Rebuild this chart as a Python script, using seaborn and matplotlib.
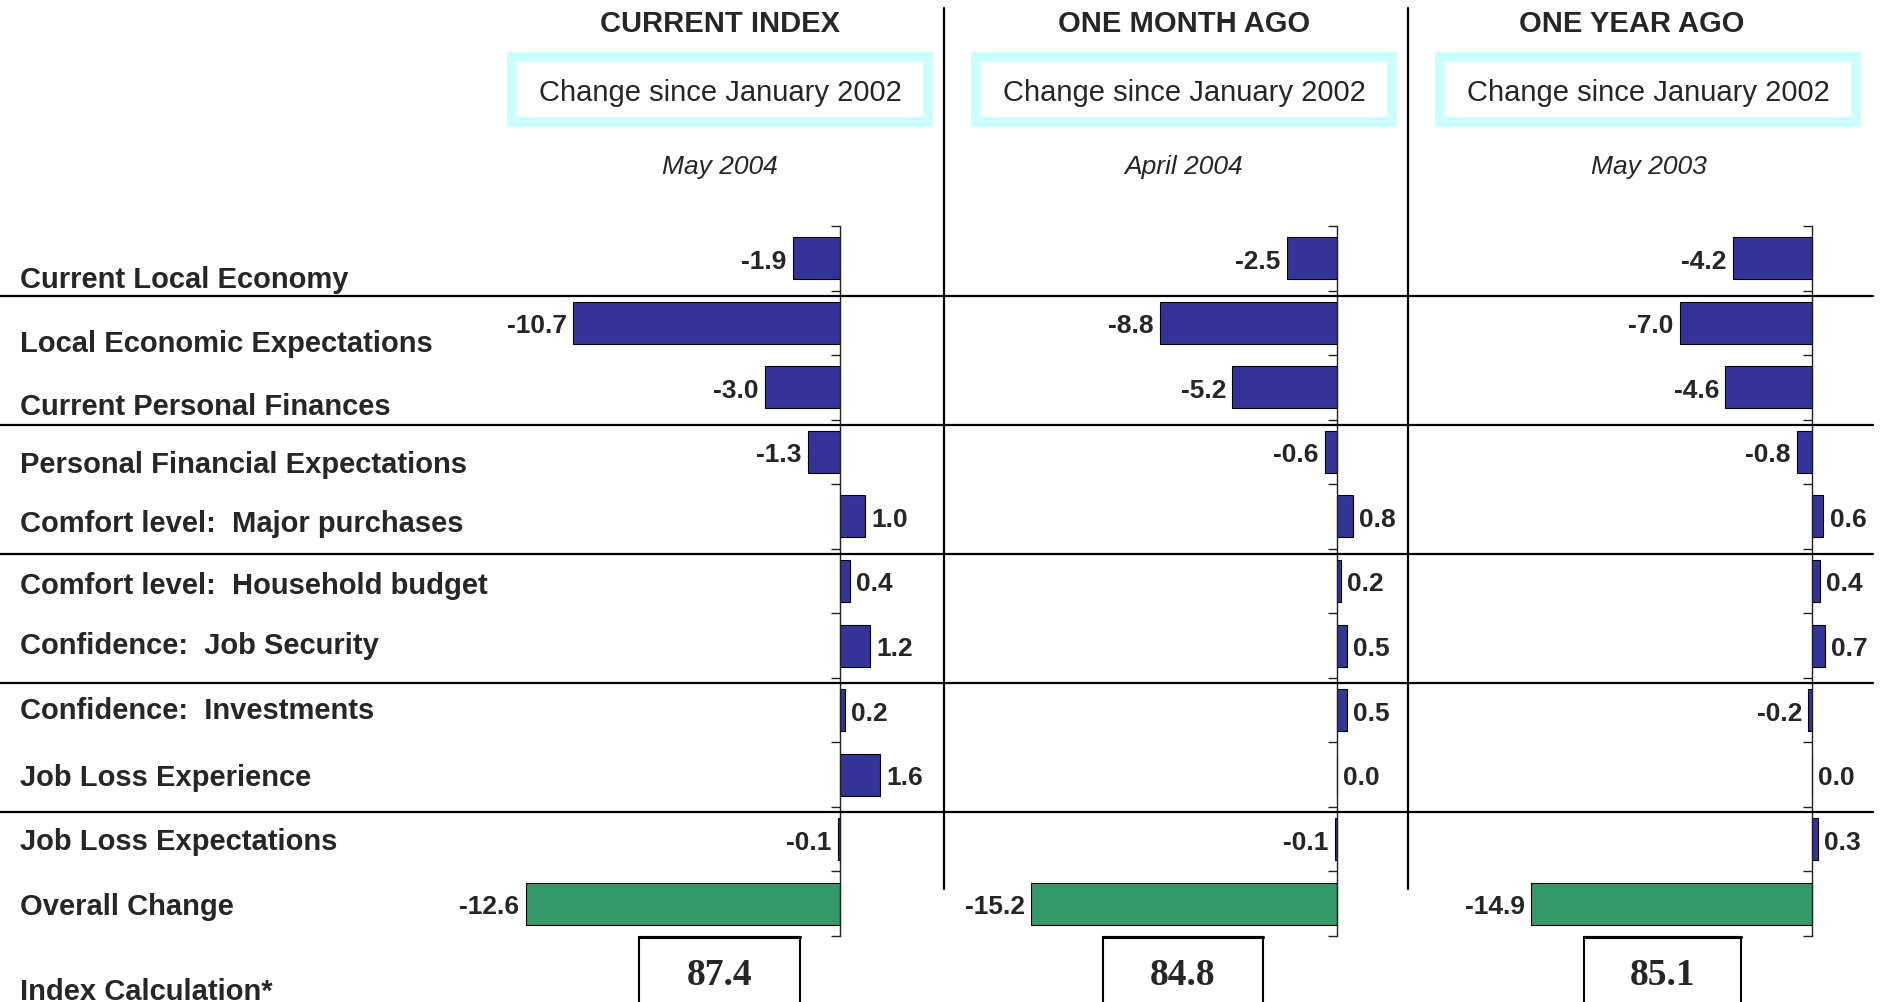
import matplotlib
matplotlib.use('Agg')
import matplotlib.pyplot as plt
import matplotlib.patches as patches
import matplotlib.transforms as mtransforms
from matplotlib.lines import Line2D
import seaborn as sns
import pandas as pd

# data
categories = ['Current Local Economy', 'Local Economic Expectations', 'Current Personal Finances',
              'Personal Financial Expectations', 'Comfort level:  Major purchases',
              'Comfort level:  Household budget', 'Confidence:  Job Security',
              'Confidence:  Investments', 'Job Loss Experience', 'Job Loss Expectations',
              'Overall Change']
current_index = [-1.9, -10.7, -3.0, -1.3, 1.0, 0.4, 1.2, 0.2, 1.6, -0.1, -12.6]
one_month_ago = [-2.5, -8.8, -5.2, -0.6, 0.8, 0.2, 0.5, 0.5, 0.0, -0.1, -15.2]
one_year_ago = [-4.2, -7.0, -4.6, -0.8, 0.6, 0.4, 0.7, -0.2, 0.0, 0.3, -14.9]
headers = ['CURRENT INDEX', 'ONE MONTH AGO', 'ONE YEAR AGO']
periods = ['May 2004', 'April 2004', 'May 2003']
index_values = [87.4, 84.8, 85.1]
subtitle = 'Change since January 2002'

# layout (pixels of the 1880x1003 canvas)
W, H = 1880, 1003
BLUE, GREEN, CYAN = '#333399', '#339966', '#CCFFFF'
panel_edges = [(0, 944), (944, 1408), (1408, 1880)]
zero_px = [840, 1337, 1812]
px_per_unit = [24.95, 20.1, 18.85]
axis_top, axis_bottom = 227, 937
label_baselines = [288, 352, 415, 473, 532, 594, 654, 719, 786, 850, 915]
header_x = [720, 1184, 1632]
box_x = [(507, 933), (971, 1397), (1435, 1861)]
period_x = [720, 1184, 1649]
index_box_x = [(639, 800), (1103, 1263), (1584, 1741)]

sns.set_style('white')
plt.rcParams['font.family'] = ['Liberation Sans', 'DejaVu Sans']


def fx(px):
    return px / W


def fy(py):
    return 1 - py / H


fig = plt.figure(figsize=(W / 100, H / 100), dpi=100)

series = [current_index, one_month_ago, one_year_ago]
colors = [BLUE] * (len(categories) - 1) + [GREEN]
axes = []
for i, vals in enumerate(series):
    x0, x1 = panel_edges[i]
    ax = fig.add_axes([fx(x0), fy(axis_bottom), (x1 - x0) / W, (axis_bottom - axis_top) / H])
    ax.patch.set_alpha(0)
    df = pd.DataFrame({'category': categories, 'value': vals})
    sns.barplot(data=df, x='value', y='category', hue='category', palette=colors,
                orient='h', width=0.65, edgecolor='black', linewidth=0.8,
                saturation=1, legend=False, ax=ax)
    ax.set_xlim(-(zero_px[i] - x0) / px_per_unit[i], (x1 - zero_px[i]) / px_per_unit[i])
    ax.set_ylim(len(categories) - 0.5, -0.5)
    for s in ['top', 'right', 'bottom']:
        ax.spines[s].set_visible(False)
    ax.spines['left'].set_position(('data', 0))
    ax.spines['left'].set_color('#222222')
    ax.spines['left'].set_linewidth(1)
    ax.set_yticks([k - 0.5 for k in range(len(categories) + 1)])
    ax.set_yticklabels([])
    ax.tick_params(axis='y', direction='out', length=6.5, width=1, color='#222222', left=True)
    ax.set_xticks([])
    ax.set_xlabel('')
    ax.set_ylabel('')
    for k, v in enumerate(vals):
        if v < 0:
            ax.annotate(f'{v:.1f}', (v, k), xytext=(-4.5, -6.8), textcoords='offset points',
                        ha='right', va='baseline', fontsize=19, fontweight='bold')
        else:
            ax.annotate(f'{v:.1f}', (v, k), xytext=(4.5, -6.8), textcoords='offset points',
                        ha='left', va='baseline', fontsize=19, fontweight='bold')
    axes.append(ax)

# row labels on the left
for lab, yb in zip(categories, label_baselines):
    fig.text(fx(20), fy(yb), lab, fontsize=21, fontweight='bold', ha='left', va='baseline')
fig.text(fx(20), fy(1000), 'Index Calculation*', fontsize=21, fontweight='bold',
         ha='left', va='baseline')

# horizontal separators between groups
trans = mtransforms.blended_transform_factory(fig.transFigure, axes[0].transData)
for r in [0, 2, 4, 6, 8]:
    fig.add_artist(Line2D([0, fx(1873)], [r + 0.58, r + 0.58], transform=trans,
                          color='black', lw=1.6))

# vertical dividers between panels
for xd in [944, 1408]:
    fig.add_artist(Line2D([fx(xd), fx(xd)], [fy(9), fy(890)], color='black', lw=1.6))

# headers, subtitle boxes, periods and index boxes
for i in range(3):
    fig.text(fx(header_x[i]), fy(32), headers[i], fontsize=21, fontweight='bold',
             ha='center', va='baseline')
    bx0, bx1 = box_x[i]
    fig.add_artist(patches.Rectangle((fx(bx0 + 5), fy(123)), (bx1 - bx0 - 10) / W, 65 / H,
                                     transform=fig.transFigure, facecolor='white',
                                     edgecolor=CYAN, lw=7.2))
    fig.text(fx((bx0 + bx1) / 2), fy(101), subtitle, fontsize=21, ha='center', va='baseline')
    fig.text(fx(period_x[i]), fy(174), periods[i], fontsize=19, style='italic',
             ha='center', va='baseline')
    ix0, ix1 = index_box_x[i]
    fig.add_artist(patches.Rectangle((fx(ix0), fy(1020)), (ix1 - ix0) / W, 82 / H,
                                     transform=fig.transFigure, facecolor='white',
                                     edgecolor='black', lw=1.5))
    fig.add_artist(Line2D([fx(ix0), fx(ix1)], [fy(938), fy(938)], color='black', lw=2.2))
    fig.text(fx((ix0 + ix1) / 2), fy(985), f'{index_values[i]:.1f}', fontsize=27,
             fontweight='bold', family='Liberation Serif', ha='center', va='baseline')

fig.savefig('out.png', dpi=100)
